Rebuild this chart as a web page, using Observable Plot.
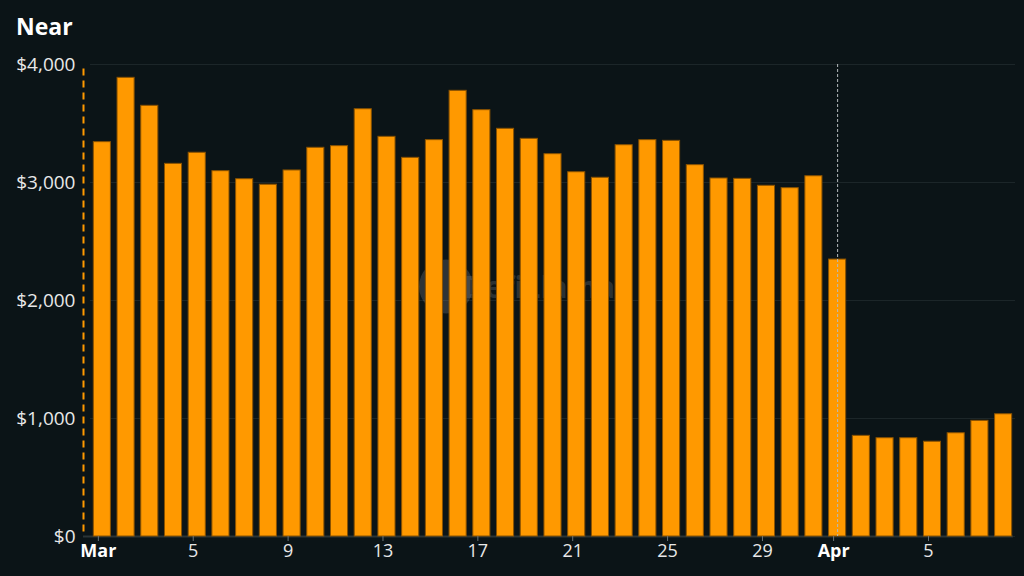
<!DOCTYPE html>
<html>
<head>
<meta charset="utf-8">
<script src="https://cdn.jsdelivr.net/npm/d3@7"></script>
<script src="https://cdn.jsdelivr.net/npm/@observablehq/plot@0.6"></script>
<style>
  html, body { margin: 0; padding: 0; background: #0b1417; }
  #wrap { width: 1024px; height: 576px; background: #0b1417; overflow: hidden; }
  #title { height: 44px; box-sizing: border-box; padding: 12px 0 0 16px; font-family: "Open Sans", sans-serif; font-weight: 700; font-size: 23px; color: #ffffff; line-height: 28px; }
  svg { display: block; }
</style>
</head>
<body>
<div id="wrap">
  <div id="title">Near</div>
  <div id="chart"></div>
</div>
<script>
const days = [
  "Mar 1","Mar 2","Mar 3","Mar 4","Mar 5","Mar 6","Mar 7","Mar 8","Mar 9","Mar 10",
  "Mar 11","Mar 12","Mar 13","Mar 14","Mar 15","Mar 16","Mar 17","Mar 18","Mar 19","Mar 20",
  "Mar 21","Mar 22","Mar 23","Mar 24","Mar 25","Mar 26","Mar 27","Mar 28","Mar 29","Mar 30",
  "Mar 31","Apr 1","Apr 2","Apr 3","Apr 4","Apr 5","Apr 6","Apr 7","Apr 8"
];
const values = [
  3342, 3887, 3650, 3158, 3252, 3096, 3028, 2981, 3102, 3294,
  3308, 3621, 3387, 3209, 3359, 3777, 3613, 3455, 3370, 3240,
  3087, 3040, 3316, 3359, 3353, 3147, 3034, 3031, 2972, 2952,
  3053, 2347, 853, 833, 833, 803, 875, 980, 1036
];
const minorTicks = ["Mar 5","Mar 9","Mar 13","Mar 17","Mar 21","Mar 25","Mar 29","Apr 5"];
const monthTicks = ["Mar 1","Apr 1"];
const yTicks = [0, 1000, 2000, 3000, 4000];
const markerDay = ["Apr 1"];

const data = days.map((d, i) => ({day: d, value: values[i]}));
const font = '"Open Sans", sans-serif';

const chart = Plot.plot({
  width: 1024,
  height: 532,
  marginTop: 20,
  marginBottom: 40,
  marginLeft: 90,
  marginRight: 9,
  style: {background: "#0b1417", color: "#e8e8e8", fontFamily: font, fontSize: "18px"},
  x: {type: "band", domain: days, paddingInner: 0.28, paddingOuter: 0.14, round: false, label: null},
  y: {domain: [0, 4000], label: null},
  marks: [
    Plot.gridY(yTicks, {stroke: "#1c2629", strokeOpacity: 1, strokeWidth: 1}),
    Plot.dot([0], {frameAnchor: "middle", dx: -107, dy: -14, r: 27, fill: "#808080", fillOpacity: 0.3}),
    Plot.text(["DefiLlama"], {frameAnchor: "middle", dx: -14, dy: -12, fill: "#808080", fillOpacity: 0.3, fontSize: 30, fontWeight: "bold"}),
    Plot.ruleY([0], {stroke: "#2b3437", strokeWidth: 2, insetLeft: -7, insetRight: 2}),
    Plot.barY(data, {x: "day", y: "value", fill: "#ff9900", stroke: "#8a5200", strokeWidth: 1}),
    Plot.ruleX(markerDay, {stroke: "#b4babd", strokeWidth: 1, strokeDasharray: "3,2"}),
    Plot.frame({anchor: "left", stroke: "#ff9900", strokeWidth: 2, strokeDasharray: "5,7", dx: -7, insetTop: 5}),
    Plot.axisY({ticks: yTicks, tickSize: 0, tickPadding: 15, tickFormat: d => "$" + d3.format(",")(d), fill: "#e8e8e8", fontSize: 19}),
    Plot.axisX({ticks: minorTicks, tickSize: 5, tickPadding: 3, dx: -4, stroke: "#6b7478", fill: "#e8e8e8", fontSize: 18, tickFormat: d => d.split(" ")[1]}),
    Plot.axisX({ticks: monthTicks, tickSize: 5, tickPadding: 3, dx: -4, stroke: "#6b7478", fill: "#ffffff", fontSize: 18, fontWeight: "bold", tickFormat: d => d.split(" ")[0]})
  ]
});
document.getElementById("chart").appendChild(chart);
</script>
</body>
</html>
